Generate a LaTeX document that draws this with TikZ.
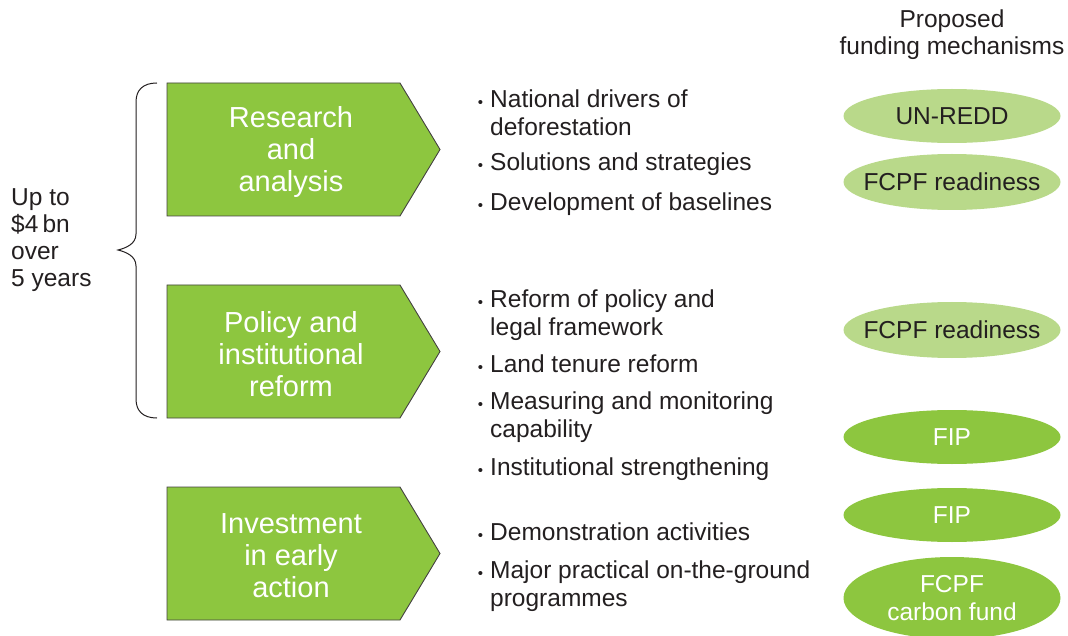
\documentclass[tikz,border=0pt]{standalone}
\usepackage{fontspec}
\setmainfont{Liberation Sans}
\usetikzlibrary{shapes.geometric}
\definecolor{leaf}{HTML}{8DC63F}
\definecolor{paleleaf}{HTML}{B9D98A}
\definecolor{ink}{HTML}{231F20}
\newcommand{\bul}{\llap{{\fontsize{15}{15}\selectfont •}\hspace{7pt}}}
\begin{document}
\begin{tikzpicture}[x=1pt,y=-1pt,
  arrowbox/.style={fill=leaf,draw=ink!85,line width=0.9pt},
  boxtext/.style={text=white,align=center,font=\fontsize{29}{32}\selectfont},
  item/.style={anchor=base west,align=left,text=ink,inner sep=0pt,font=\fontsize{24.5}{28}\selectfont},
  fundpale/.style={ellipse,fill=paleleaf,minimum width=217pt,minimum height=54pt,inner sep=0pt},
  funddark/.style={ellipse,fill=leaf,minimum width=217pt,minimum height=54pt,inner sep=0pt},
  fundtext/.style={align=center,inner sep=0pt,font=\fontsize{24.5}{28}\selectfont},
  brace/.style={draw=ink,line width=1pt}]
\useasboundingbox (0,0) rectangle (1068,636);
% arrow boxes
\path[arrowbox] (167,83) -- (400,83) -- (440,149.5) -- (400,216) -- (167,216) -- cycle;
\path[arrowbox] (167,285) -- (400,285) -- (440,351.5) -- (400,418) -- (167,418) -- cycle;
\path[arrowbox] (167,487) -- (400,487) -- (440,553.5) -- (400,620) -- (167,620) -- cycle;
\node[boxtext] (ra) at (291,152) {Research\\and\\analysis};
\node[boxtext] (pi) at (291,354) {Policy and\\institutional\\reform};
\node[boxtext] (ie) at (291,556) {Investment\\in early\\action};
% brace
\coordinate (bt) at (157,83);
\coordinate (bm) at (118,250);
\coordinate (bb) at (157,418);
\draw[brace] (bt) .. controls (143,83) and (136,90) .. (136,102) -- (136,234)
  .. controls (136,244) and (126,248) .. (bm)
  .. controls (126,252) and (136,256) .. (136,266) -- (136,399)
  .. controls (136,411) and (143,418) .. (bb);
\node[anchor=base west,align=left,text=ink,inner sep=0pt,font=\fontsize{24.5}{27}\selectfont] (amt) at (11,287) {Up to\\\$4\,bn\\over\\5 years};
% header
\node[align=center,text=ink,font=\fontsize{24.5}{27}\selectfont] (hdr) at (952,35) {Proposed\\funding mechanisms};
% items
\node[item] (i1) at (490,136) {\bul National drivers of\\deforestation};
\node[item] (i2) at (490,171) {\bul Solutions and strategies};
\node[item] (i3) at (490,211) {\bul Development of baselines};
\node[item] (i4) at (490,335) {\bul Reform of policy and\\legal framework};
\node[item] (i5) at (490,372) {\bul Land tenure reform};
\node[item] (i6) at (490,437) {\bul Measuring and monitoring\\capability};
\node[item] (i7) at (490,475) {\bul Institutional strengthening};
\node[item] (i8) at (490,540) {\bul Demonstration activities};
\node[item] (i9) at (490,606) {\bul Major practical on-the-ground\\programmes};
% funding
\node[fundpale] (f1) at (952,116) {};
\node[fundpale,minimum height=56pt] (f2) at (952,182) {};
\node[fundpale,minimum height=56pt] (f3) at (952,330) {};
\node[funddark] (f4) at (952,437) {};
\node[funddark] (f5) at (952,515) {};
\node[funddark,minimum height=82pt] (f6) at (952,598) {};
\node[fundtext,text=ink] (t1) at (f1) {UN-REDD};
\node[fundtext,text=ink] (t2) at (f2) {FCPF readiness};
\node[fundtext,text=ink] (t3) at (f3) {FCPF readiness};
\node[fundtext,text=white] (t4) at (f4) {FIP};
\node[fundtext,text=white] (t5) at (f5) {FIP};
\node[fundtext,text=white] (t6) at (f6) {FCPF\\carbon fund};
\end{tikzpicture}
\end{document}
